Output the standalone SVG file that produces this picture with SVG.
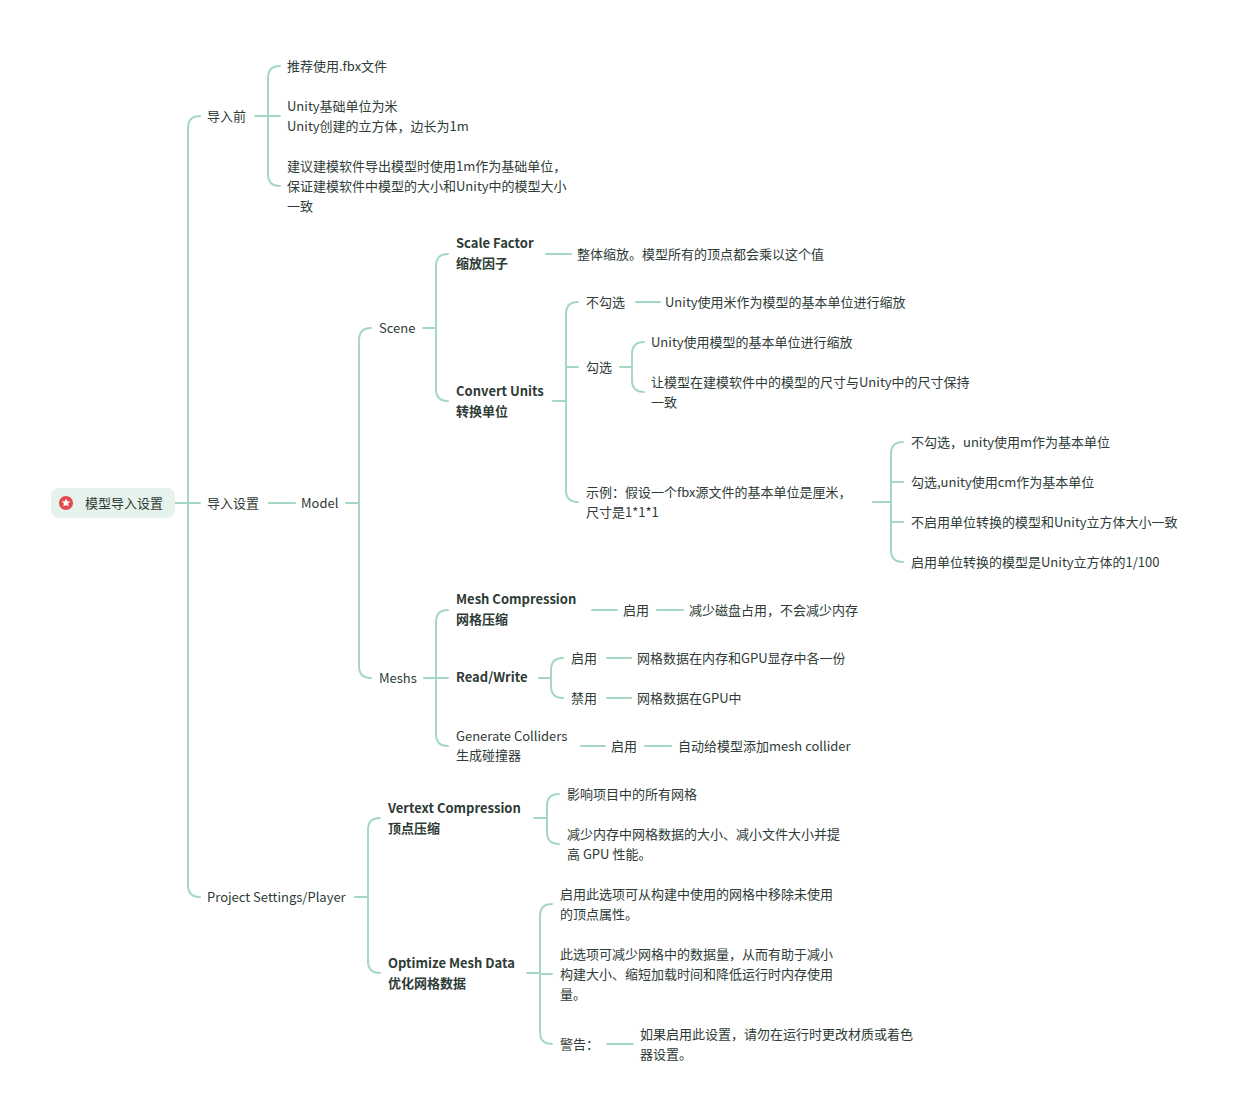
<svg xmlns="http://www.w3.org/2000/svg" width="1252" height="1120" viewBox="0 0 1252 1120">
<style>
text{font-family:"Noto Sans CJK SC","Noto Sans",sans-serif;font-size:13px;fill:#2e3b36}
.b{font-weight:bold}
.c path{fill:none;stroke:#a5d8c1;stroke-width:2;stroke-linecap:round}
</style>
<rect width="1252" height="1120" fill="#fff"/>
<g class="c" id="connectors">
<path d="M175,503H188M200,116Q188,116 188,128V885Q188,897 200,897M188,503H200"/>
<path d="M255,116H268M280,66Q268,66 268,78V174Q268,186 280,186M268,116H280"/>
<path d="M269,503H295"/>
<path d="M346,503H359M371,328Q359,328 359,340V666Q359,678 371,678"/>
<path d="M423,328H436M448,254Q436,254 436,266V389Q436,401 448,401"/>
<path d="M546,254H571"/>
<path d="M553,401H566M578,302Q566,302 566,314V490Q566,502 578,502M566,367H578"/>
<path d="M636,302H660"/>
<path d="M620,367H632M644,342Q632,342 632,354V380Q632,392 644,392"/>
<path d="M873,502H891M903,442Q891,442 891,454V550Q891,562 903,562M891,482H903M891,522H903"/>
<path d="M424,678H436M448,610Q436,610 436,622V734Q436,746 448,746M436,678H448"/>
<path d="M592,610H617M657,610H683"/>
<path d="M539,678H551M563,658Q551,658 551,670V686Q551,698 563,698M607,658H631M607,698H631"/>
<path d="M581,746H605M645,746H671"/>
<path d="M355,897H368M380,818Q368,818 368,830V961Q368,973 380,973"/>
<path d="M534,818H547M559,794Q547,794 547,806V832Q547,844 559,844"/>
<path d="M527,973H540M552,904Q540,904 540,916V1032Q540,1044 552,1044M540,974H552"/>
<path d="M607,1044H633"/>
</g>
<g id="root"><rect x="51" y="488" width="124" height="30" rx="8" fill="#e6f3ed"/><circle cx="66" cy="503" r="7" fill="#e5484d"/><path d="M66,498.5l1.3,2.8 3,.3-2.2,2 .6,3-2.7-1.5-2.7,1.5.6-3-2.2-2 3-.3z" fill="#fff"/><text x="85" y="508">模型导入设置</text></g>
<g id="n1"><text x="207" y="121">导入前</text></g>
<g id="n1a"><text x="287" y="71">推荐使用.fbx文件</text></g>
<g id="n1b"><text x="287" y="111">Unity基础单位为米</text><text x="287" y="131">Unity创建的立方体，边长为1m</text></g>
<g id="n1c"><text x="287" y="171">建议建模软件导出模型时使用1m作为基础单位，</text><text x="287" y="191">保证建模软件中模型的大小和Unity中的模型大小</text><text x="287" y="211">一致</text></g>
<g id="n2"><text x="207" y="508">导入设置</text></g>
<g id="model"><text x="301" y="508">Model</text></g>
<g id="scene"><text x="379" y="333">Scene</text></g>
<g id="sf"><text class="b" x="456" y="248">Scale Factor</text><text class="b" x="456" y="268">缩放因子</text></g>
<g id="sfd"><text x="577" y="259">整体缩放。模型所有的顶点都会乘以这个值</text></g>
<g id="cu"><text class="b" x="456" y="396">Convert Units</text><text class="b" x="456" y="416">转换单位</text></g>
<g id="cu1"><text x="586" y="307">不勾选</text></g>
<g id="cu1d"><text x="665" y="307">Unity使用米作为模型的基本单位进行缩放</text></g>
<g id="cu2"><text x="586" y="372">勾选</text></g>
<g id="cu2a"><text x="651" y="347">Unity使用模型的基本单位进行缩放</text></g>
<g id="cu2b"><text x="651" y="387">让模型在建模软件中的模型的尺寸与Unity中的尺寸保持</text><text x="651" y="407">一致</text></g>
<g id="cu3"><text x="586" y="497">示例：假设一个fbx源文件的基本单位是厘米，</text><text x="586" y="517">尺寸是1*1*1</text></g>
<g id="e1"><text x="911" y="447">不勾选，unity使用m作为基本单位</text></g>
<g id="e2"><text x="911" y="487">勾选,unity使用cm作为基本单位</text></g>
<g id="e3"><text x="911" y="527">不启用单位转换的模型和Unity立方体大小一致</text></g>
<g id="e4"><text x="911" y="567">启用单位转换的模型是Unity立方体的1/100</text></g>
<g id="meshs"><text x="379" y="683">Meshs</text></g>
<g id="mc"><text class="b" x="456" y="604">Mesh Compression</text><text class="b" x="456" y="624">网格压缩</text></g>
<g id="mc1"><text x="623" y="615">启用</text></g>
<g id="mc1d"><text x="689" y="615">减少磁盘占用，不会减少内存</text></g>
<g id="rw"><text class="b" x="456" y="682">Read/Write</text></g>
<g id="rw1"><text x="571" y="663">启用</text></g>
<g id="rw1d"><text x="637" y="663">网格数据在内存和GPU显存中各一份</text></g>
<g id="rw2"><text x="571" y="703">禁用</text></g>
<g id="rw2d"><text x="637" y="703">网格数据在GPU中</text></g>
<g id="gc"><text x="456" y="741">Generate Colliders</text><text x="456" y="760">生成碰撞器</text></g>
<g id="gc1"><text x="611" y="751">启用</text></g>
<g id="gc1d"><text x="678" y="751">自动给模型添加mesh collider</text></g>
<g id="ps"><text x="207" y="902">Project Settings/Player</text></g>
<g id="vc"><text class="b" x="388" y="813">Vertext Compression</text><text class="b" x="388" y="833">顶点压缩</text></g>
<g id="vc1"><text x="567" y="799">影响项目中的所有网格</text></g>
<g id="vc2"><text x="567" y="839">减少内存中网格数据的大小、减小文件大小并提</text><text x="567" y="859">高 GPU 性能。</text></g>
<g id="om"><text class="b" x="388" y="968">Optimize Mesh Data</text><text class="b" x="388" y="988">优化网格数据</text></g>
<g id="om1"><text x="560" y="899">启用此选项可从构建中使用的网格中移除未使用</text><text x="560" y="919">的顶点属性。</text></g>
<g id="om2"><text x="560" y="959">此选项可减少网格中的数据量，从而有助于减小</text><text x="560" y="979">构建大小、缩短加载时间和降低运行时内存使用</text><text x="560" y="999">量。</text></g>
<g id="om3"><text x="560" y="1049">警告：</text></g>
<g id="om3d"><text x="640" y="1039">如果启用此设置，请勿在运行时更改材质或着色</text><text x="640" y="1059">器设置。</text></g>
</svg>
